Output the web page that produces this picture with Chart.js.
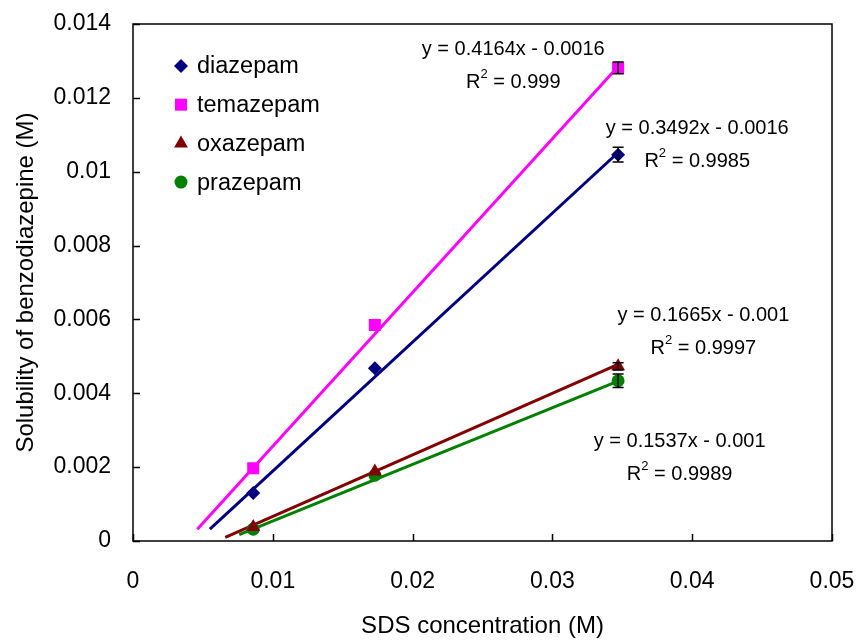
<!DOCTYPE html>
<html>
<head>
<meta charset="utf-8">
<script src="https://cdn.jsdelivr.net/npm/chart.js@4.4.1/dist/chart.umd.min.js"></script>
<style>
  html, body { margin: 0; padding: 0; background: #ffffff; }
  #wrap { width: 856px; height: 641px; }
</style>
</head>
<body>
<div id="wrap"><canvas id="grafico"></canvas></div>
<script>
// concentrações de SDS (M)
var sdsConc = [0.0086, 0.0173, 0.0347];

var nomes = ["diazepam", "temazepam", "oxazepam", "prazepam"];
var diazepam = [0.0013, 0.00468, 0.01046];
var temazepam = [0.00197, 0.00585, 0.01281];
var oxazepam = [0.00038, 0.00188, 0.00473];
var prazepam = [0.00032, 0.00178, 0.00434];

// barras de erro (só visíveis no último ponto)
var erroDiazepam = [0, 0, 0.0002];
var erroTemazepam = [0, 0, 0.00016];
var erroOxazepam = [0, 0, 0.0001];
var erroPrazepam = [0, 0, 0.00018];

// linhas de tendência (pontos inicial e final)
var tendX = [[0.0055, 0.0347], [0.0046, 0.0347], [0.0066, 0.0347], [0.0076, 0.0347]];
var tendY = [[0.00032, 0.01052], [0.00032, 0.01285], [0.0001, 0.00478], [0.00017, 0.00433]];

var equacoes = ["y = 0.3492x - 0.0016", "y = 0.4164x - 0.0016", "y = 0.1665x - 0.001", "y = 0.1537x - 0.001"];
var r2 = ["0.9985", "0.999", "0.9997", "0.9989"];

var xTicks = [0, 0.01, 0.02, 0.03, 0.04, 0.05];
var yTicks = [0, 0.002, 0.004, 0.006, 0.008, 0.01, 0.012, 0.014];

var cores = ["#000080", "#ff00ff", "#800000", "#008000"];
var estilos = ["rectRot", "rect", "triangle", "circle"];
var raios = [7, 8.5, 8, 6.5];
var valores = [diazepam, temazepam, oxazepam, prazepam];
var erros = [erroDiazepam, erroTemazepam, erroOxazepam, erroPrazepam];

// posição dos textos das equações (coordenadas dos dados)
var posEq = [[0.04036, 0.01118], [0.0272, 0.0133], [0.0408, 0.0061], [0.0391, 0.0027]];

var fonte = "'Liberation Sans', Arial, sans-serif";

function montarDatasets() {
  var ds = [];
  for (var i = 0; i < nomes.length; i++) {
    var pts = [];
    for (var j = 0; j < sdsConc.length; j++) {
      pts.push({ x: sdsConc[j], y: valores[i][j] });
    }
    ds.push({
      label: nomes[i],
      data: pts,
      backgroundColor: cores[i],
      borderColor: cores[i],
      pointStyle: estilos[i],
      pointRadius: raios[i],
      pointHoverRadius: raios[i],
      pointBorderWidth: 0,
      showLine: false,
      order: 0,
      erros: erros[i]
    });
  }
  for (var k = 0; k < nomes.length; k++) {
    ds.push({
      label: "tend_" + nomes[k],
      data: [{ x: tendX[k][0], y: tendY[k][0] }, { x: tendX[k][1], y: tendY[k][1] }],
      borderColor: cores[k],
      backgroundColor: cores[k],
      borderWidth: 3,
      pointRadius: 0,
      showLine: true,
      order: 1
    });
  }
  return ds;
}

var pluginMoldura = {
  id: "moldura",
  afterDatasetsDraw: function (chart) {
    var ctx = chart.ctx;
    var sx = chart.scales.x;
    var sy = chart.scales.y;
    ctx.save();
    // barras de erro
    ctx.strokeStyle = "#000000";
    ctx.lineWidth = 1.5;
    chart.data.datasets.forEach(function (d) {
      if (!d.erros) return;
      d.data.forEach(function (p, j) {
        var e = d.erros[j];
        if (!e) return;
        var px = sx.getPixelForValue(p.x);
        var y1 = sy.getPixelForValue(p.y + e);
        var y2 = sy.getPixelForValue(p.y - e);
        ctx.beginPath();
        ctx.moveTo(px, y1); ctx.lineTo(px, y2);
        ctx.moveTo(px - 5.5, y1); ctx.lineTo(px + 5.5, y1);
        ctx.moveTo(px - 5.5, y2); ctx.lineTo(px + 5.5, y2);
        ctx.stroke();
      });
    });
    ctx.restore();
  },
  afterDraw: function (chart) {
    var ctx = chart.ctx;
    var area = chart.chartArea;
    var sx = chart.scales.x;
    var sy = chart.scales.y;
    ctx.save();
    ctx.strokeStyle = "#000000";
    ctx.lineWidth = 1.5;
    ctx.strokeRect(area.left, area.top, area.right - area.left, area.bottom - area.top);
    ctx.beginPath();
    xTicks.forEach(function (v) {
      var px = Math.round(sx.getPixelForValue(v)) + 0.5;
      ctx.moveTo(px, area.bottom); ctx.lineTo(px, area.bottom - 7);
    });
    yTicks.forEach(function (v) {
      var py = Math.round(sy.getPixelForValue(v)) + 0.5;
      ctx.moveTo(area.left, py); ctx.lineTo(area.left + 7, py);
    });
    ctx.stroke();

    // legenda dentro do gráfico
    ctx.font = "23.5px " + fonte;
    ctx.textBaseline = "middle";
    ctx.textAlign = "left";
    for (var i = 0; i < nomes.length; i++) {
      var ly = area.top + 42 + i * 38.7;
      var lx = area.left + 48;
      ctx.fillStyle = cores[i];
      Chart.helpers.drawPoint(ctx, { pointStyle: estilos[i], radius: raios[i], borderWidth: 0, rotation: 0 }, lx, ly);
      ctx.fillStyle = "#000000";
      ctx.fillText(nomes[i], lx + 16, ly + 1);
    }

    // equações das linhas de tendência
    ctx.font = "20px " + fonte;
    ctx.textAlign = "center";
    for (var k = 0; k < equacoes.length; k++) {
      var ex = sx.getPixelForValue(posEq[k][0]);
      var ey = sy.getPixelForValue(posEq[k][1]);
      ctx.fillText(equacoes[k], ex, ey);
      var txt = " = " + r2[k];
      ctx.font = "20px " + fonte;
      var wR = ctx.measureText("R").width;
      ctx.font = "13px " + fonte;
      var w2 = ctx.measureText("2").width;
      ctx.font = "20px " + fonte;
      var wT = ctx.measureText(txt).width;
      var x0 = ex - (wR + w2 + wT) / 2;
      var ry = ey + 33;
      ctx.textAlign = "left";
      ctx.fillText("R", x0, ry);
      ctx.font = "13px " + fonte;
      ctx.fillText("2", x0 + wR, ry - 8);
      ctx.font = "20px " + fonte;
      ctx.fillText(txt, x0 + wR + w2, ry);
      ctx.textAlign = "center";
    }
    ctx.restore();
  }
};

var config = {
  type: "scatter",
  data: { datasets: montarDatasets() },
  options: {
    responsive: true,
    maintainAspectRatio: false,
    animation: { duration: 0 },
    layout: { padding: { top: 24, right: 24, left: 0, bottom: 0 } },
    plugins: {
      legend: { display: false },
      tooltip: { enabled: false }
    },
    scales: {
      x: {
        type: "linear",
        min: 0,
        max: 0.05,
        afterBuildTicks: function (scale) {
          scale.ticks = xTicks.map(function (v) { return { value: v }; });
        },
        afterFit: function (scale) {
          scale.height = 100;
          scale.paddingLeft = 0;
          scale.paddingRight = 0;
        },
        ticks: {
          color: "#000000",
          padding: 27,
          maxRotation: 0,
          font: { family: fonte, size: 23 },
          callback: function (v) { return String(v); }
        },
        grid: { display: false, drawTicks: false },
        border: { display: false },
        title: {
          display: true,
          text: "SDS concentration (M)",
          color: "#000000",
          font: { family: fonte, size: 24 },
          padding: { top: 0, bottom: 0 }
        }
      },
      y: {
        type: "linear",
        min: 0,
        max: 0.014,
        afterBuildTicks: function (scale) {
          scale.ticks = yTicks.map(function (v) { return { value: v }; });
        },
        afterFit: function (scale) {
          scale.width = 133;
          scale.paddingTop = 0;
          scale.paddingBottom = 0;
        },
        ticks: {
          color: "#000000",
          padding: 22,
          font: { family: fonte, size: 23 },
          callback: function (v) { return String(v); }
        },
        grid: { display: false, drawTicks: false },
        border: { display: false },
        title: {
          display: true,
          text: "Solubility of benzodiazepine (M)",
          color: "#000000",
          font: { family: fonte, size: 24 },
          padding: { top: 12, bottom: 0 }
        }
      }
    }
  },
  plugins: [pluginMoldura]
};

var grafico = new Chart(document.getElementById("grafico"), config);
</script>
</body>
</html>
